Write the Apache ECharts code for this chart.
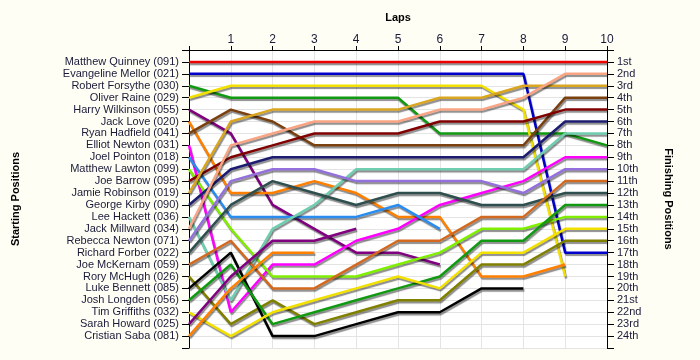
<!DOCTYPE html>
<html>
<head>
<meta charset="utf-8">
<script src="https://cdn.jsdelivr.net/npm/echarts@6/dist/echarts.min.js"></script>
<style>
html,body{margin:0;padding:0;background:#fefef4;}
#c{width:700px;height:360px;}
</style>
</head>
<body>
<div id="c"></div>
<script>
const laps = [0,1,2,3,4,5,6,7,8,9,10];
const starters = [
  'Matthew Quinney (091)','Evangeline Mellor (021)','Robert Forsythe (030)','Oliver Raine (029)',
  'Harry Wilkinson (055)','Jack Love (020)','Ryan Hadfield (041)','Elliot Newton (031)',
  'Joel Pointon (018)','Matthew Lawton (099)','Joe Barrow (095)','Jamie Robinson (019)',
  'George Kirby (090)','Lee Hackett (036)','Jack Millward (034)','Rebecca Newton (071)',
  'Richard Forber (022)','Joe McKernam (059)','Rory McHugh (026)','Luke Bennett (085)',
  'Josh Longden (056)','Tim Griffiths (032)','Sarah Howard (025)','Cristian Saba (081)'
];
const finishLabels = ['1st','2nd','3rd','4th','5th','6th','7th','8th','9th','10th','11th','12th',
  '13th','14th','15th','16th','17th','18th','19th','20th','21st','22nd','23rd','24th'];

// position of each driver at laps 0..10 (shorter = retired)
const pos091 = [1,1,1,1,1,1,1,1,1,1,1];
const pos021 = [2,2,2,2,2,2,2,2,2,17,17];
const pos030 = [3,4,4,4,4,4,7,7,7,7,8];
const pos029 = [4,3,3,3,3,3,3,3,5,19];
const pos055 = [5,7,13,15,17,17,18];
const pos020 = [6,12,12,11,12,14,14,19,19,18];
const pos041 = [7,5,6,8,8,8,8,8,8,4,4];
const pos031 = [8,22,18,18,16,15,13,12,11,9,9];
const pos018 = [9,14,14,14,14,13,15];
const pos099 = [10,15,19,19,19,18,17,15,15,14,14];
const pos095 = [11,9,8,7,7,7,6,6,6,5,5];
const pos019 = [12,6,5,5,5,5,4,4,3,3,3];
const pos090 = [13,10,9,9,9,9,9,9,9,6,6];
const pos036 = [14,21,15,13,10,10,10,10,10,7,7];
const pos034 = [15,8,7,6,6,6,5,5,4,2,2];
const pos071 = [16,11,10,10,11,11,11,11,12,10,10];
const pos022 = [17,13,11,12,13,12,12,13,13,12,12];
const pos059 = [18,16,20,20,18,16,16,14,14,11,11];
const pos026 = [19,23,21,23,22,21,21,18,18,16,16];
const pos085 = [20,17,24,24,23,22,22,20,20];
const pos056 = [21,18,23,22,21,20,19,16,16,13,13];
const pos032 = [22,24,22,21,20,19,20,17,17,15,15];
const pos025 = [23,19,16,16,15];
const pos081 = [24,20,17,17];

const lineColors = ['#ee0000','#0000cc','#119911','#f2e000','#800080','#ff8000','#7a4010','#ff00ff',
  '#2b8cf0','#80ee00','#800000','#daa520','#1c1c70','#6fcdb0','#f9a583','#9370db',
  '#2f4f4f','#d2691e','#808000','#000000','#119911','#f2e000','#800080','#ff8000'];

const allPos = [pos091,pos021,pos030,pos029,pos055,pos020,pos041,pos031,pos018,pos099,pos095,pos019,
  pos090,pos036,pos034,pos071,pos022,pos059,pos026,pos085,pos056,pos032,pos025,pos081];

const series = allPos.map((p, i) => ({
  type: 'line',
  name: starters[i],
  data: p.map((v, k) => [laps[k], v]),
  showSymbol: false,
  symbol: 'none',
  z: 2,
  lineStyle: {
    color: lineColors[i], width: 2.5,
    shadowColor: 'rgba(0,0,0,0.45)', shadowBlur: 1, shadowOffsetX: 1, shadowOffsetY: 2
  },
  emphasis: { disabled: true }
}));

const chart = echarts.init(document.getElementById('c'), null, { renderer: 'canvas' });
const font = 'Liberation Sans';
chart.setOption({
  animation: false,
  backgroundColor: '#fefef4',
  grid: { left: 189, right: 93, top: 50, bottom: 12, show: true, backgroundColor: '#ffffff', borderWidth: 0 },
  xAxis: {
    type: 'value', position: 'top', min: 0, max: 10, interval: 1,
    name: 'Laps', nameLocation: 'middle', nameGap: 27,
    nameTextStyle: { fontFamily: font, fontWeight: 'bold', fontSize: 11, color: '#000' },
    axisLine: { show: true, lineStyle: { color: '#000', width: 1 } },
    axisTick: { show: true, length: 4, lineStyle: { color: '#000' } },
    axisLabel: { fontFamily: font, fontSize: 12, color: '#1a1a3a', margin: 4,
      formatter: v => v === 0 ? '' : String(v) },
    splitLine: { show: true, lineStyle: { color: '#e4e4e4', width: 1 } }
  },
  yAxis: [
    {
      type: 'value', position: 'left', min: 0, max: 25, interval: 1, inverse: true,
      name: 'Starting Positions', nameLocation: 'middle', nameGap: 168, nameRotate: 90,
      nameTextStyle: { fontFamily: font, fontWeight: 'bold', fontSize: 11, color: '#000' },
      axisLine: { show: true, lineStyle: { color: '#000', width: 1 } },
      axisTick: { show: true, length: 7, lineStyle: { color: '#000' } },
      axisLabel: { fontFamily: font, fontSize: 11, color: '#1a1a3a', margin: 10,
        formatter: v => (v >= 1 && v <= 24) ? starters[v - 1] : '' },
      splitLine: { show: true, lineStyle: { color: '#e4e4e4', width: 1 } }
    },
    {
      type: 'value', position: 'right', min: 0, max: 25, interval: 1, inverse: true,
      name: 'Finishing Positions', nameLocation: 'middle', nameGap: 56, nameRotate: -90,
      nameTextStyle: { fontFamily: font, fontWeight: 'bold', fontSize: 11, color: '#000' },
      axisLine: { show: true, lineStyle: { color: '#000', width: 1 } },
      axisTick: { show: true, length: 7, lineStyle: { color: '#000' } },
      axisLabel: { fontFamily: font, fontSize: 11, color: '#1a1a3a', margin: 10,
        formatter: v => (v >= 1 && v <= 24) ? finishLabels[v - 1] : '' },
      splitLine: { show: false }
    }
  ],
  series: series
});
</script>
</body>
</html>
